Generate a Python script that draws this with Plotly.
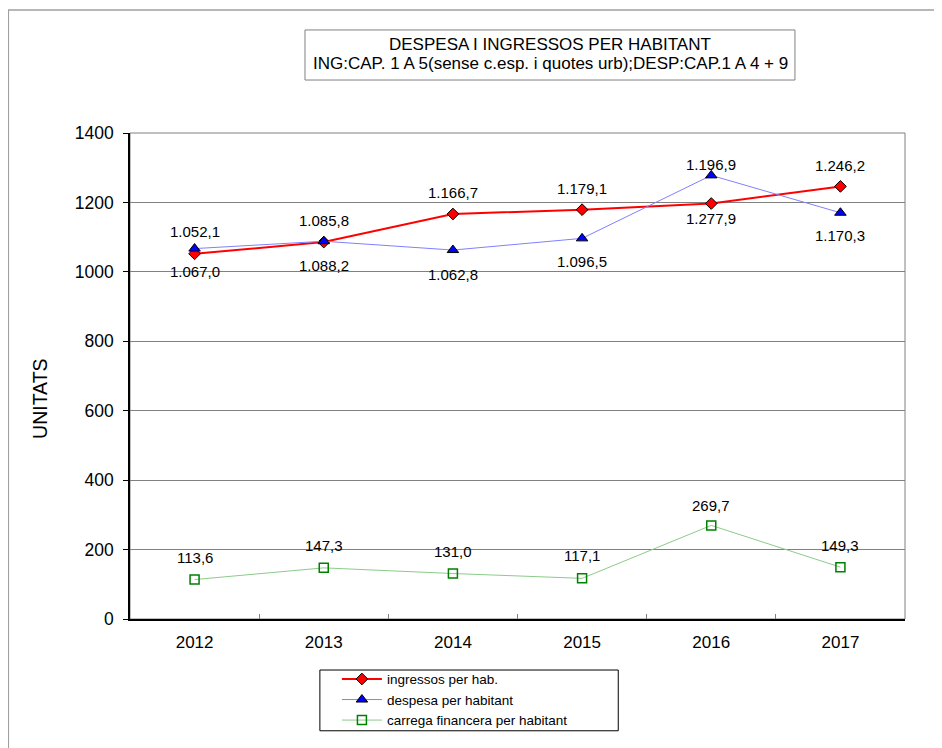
import plotly.graph_objects as go

years = ["2012", "2013", "2014", "2015", "2016", "2017"]
ingressos = [1052.1, 1085.8, 1166.7, 1179.1, 1196.9, 1246.2]
despesa = [1067.0, 1088.2, 1062.8, 1096.5, 1277.9, 1170.3]
carrega = [113.6, 147.3, 131.0, 117.1, 269.7, 149.3]

title_lines = ["DESPESA I INGRESSOS PER HABITANT",
               "ING:CAP. 1 A 5(sense c.esp. i quotes urb);DESP:CAP.1 A 4 + 9"]

# label offsets in pixels (positive = above the point)
ing_shift = [22, 22, 21, 21, 39, 21]
des_shift = [-23, -24, -24, -23, -43, -23]
car_shift = [22, 22, 22, 23, 20, 22]

FONT = "Arial, Liberation Sans, sans-serif"


def fmt(v):
    s = f"{v:,.1f}"
    return s.replace(",", "X").replace(".", ",").replace("X", ".")


fig = go.Figure()
fig.add_trace(go.Scatter(
    x=years, y=ingressos, name="ingressos per hab.", mode="lines+markers",
    line=dict(color="#FF0000", width=2),
    marker=dict(symbol="diamond", size=9, color="#FF0000", line=dict(color="#000000", width=1)),
))
fig.add_trace(go.Scatter(
    x=years, y=despesa, name="despesa per habitant", mode="lines+markers",
    line=dict(color="#8080FF", width=1),
    marker=dict(symbol="triangle-up", size=10, color="#0000FF", line=dict(color="#000000", width=1)),
))
fig.add_trace(go.Scatter(
    x=years, y=carrega, name="carrega financera per habitant", mode="lines+markers",
    line=dict(color="#8CCB8C", width=1),
    marker=dict(symbol="square-open", size=9, color="#008000", line=dict(color="#008000", width=1.5)),
))

annotations = []
for vals, shifts in ((ingressos, ing_shift), (despesa, des_shift), (carrega, car_shift)):
    for i, (v, s) in enumerate(zip(vals, shifts)):
        annotations.append(dict(
            x=i, y=v, xref="x", yref="y", text=fmt(v), showarrow=False,
            xanchor="center", yanchor="middle",
            yshift=s, font=dict(family=FONT, size=15, color="#000000"),
        ))

# title lines
for ty, line in zip((1.183, 1.144), title_lines):
    annotations.append(dict(
        x=0.542, y=ty, xref="paper", yref="paper", showarrow=False,
        xanchor="center", yanchor="middle", text=line,
        font=dict(family=FONT, size=17, color="#000000"),
    ))
# y axis title
annotations.append(dict(
    x=-0.116, y=0.453, xref="paper", yref="paper", showarrow=False,
    xanchor="center", yanchor="middle",
    text="UNITATS", textangle=-90,
    font=dict(family=FONT, size=19.5, color="#000000"),
))

shapes = [
    # outer chart border
    dict(type="rect", xref="paper", yref="paper", x0=-0.157, x1=1.2, y0=-0.5, y1=1.253,
         line=dict(color="#A0A0A0", width=1.5), layer="below"),
    # plot area frame (grey)
    dict(type="rect", xref="paper", yref="paper", x0=0, x1=1, y0=0, y1=1,
         line=dict(color="#808080", width=1), layer="below"),
    # title frame
    dict(type="rect", xref="paper", yref="paper", x0=0.2258, x1=0.858, y0=1.109, y1=1.212,
         line=dict(color="#808080", width=1), layer="below"),
    # legend frame
    dict(type="rect", xref="paper", yref="paper", x0=0.245, x1=0.630, y0=-0.230, y1=-0.105,
         line=dict(color="#000000", width=1), fillcolor="#FFFFFF", layer="below"),
]

fig.update_layout(
    width=942, height=748,
    margin=dict(l=122, r=45, t=125, b=137, autoexpand=False),
    paper_bgcolor="#FFFFFF", plot_bgcolor="#FFFFFF",
    font=dict(family=FONT, size=17, color="#000000"),
    showlegend=True,
    legend=dict(
        x=0.267, y=-0.092, xanchor="left", yanchor="top",
        borderwidth=0, bgcolor="rgba(0,0,0,0)",
        font=dict(family=FONT, size=13.5, color="#000000"),
        tracegroupgap=0, itemwidth=40,
    ),
    annotations=annotations,
    shapes=shapes,
)
fig.update_xaxes(
    type="category", range=[-0.5, 5.5],
    showline=True, linecolor="#000000", linewidth=1.5,
    ticks="inside", tickson="boundaries", ticklen=5, tickcolor="#808080",
    showgrid=False, zeroline=False,
    tickfont=dict(family=FONT, size=17, color="#000000"),
    ticklabelstandoff=7,
)
fig.update_yaxes(
    range=[0, 1400], dtick=200,
    showline=True, linecolor="#000000", linewidth=1.5,
    ticks="outside", ticklen=5, tickcolor="#000000",
    showgrid=True, gridcolor="#808080", gridwidth=1, zeroline=False,
    tickfont=dict(family=FONT, size=17.5, color="#000000"),
    ticklabelstandoff=6,
)

fig.write_html("out.html")
